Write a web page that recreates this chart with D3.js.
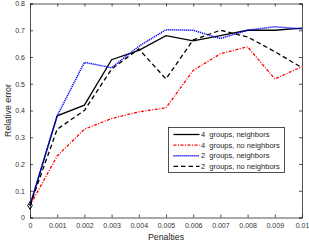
<!DOCTYPE html>
<html>
<head>
<meta charset="utf-8">
<script src="https://cdn.jsdelivr.net/npm/d3@7"></script>
<style>
  body { margin: 0; background: #fff; }
  text { font-family: "Liberation Sans", Arial, sans-serif; }
</style>
</head>
<body>
<svg id="chart" width="309" height="244"></svg>
<script>
// Relative error vs penalties

const penalties = [0, 0.001, 0.002, 0.003, 0.004, 0.005, 0.006, 0.007, 0.008, 0.009, 0.01];
const fourNeighbors   = [0.045, 0.38, 0.42, 0.59, 0.625, 0.68, 0.66, 0.68, 0.70, 0.70, 0.708];
const fourNoNeighbors = [0.045, 0.23, 0.33, 0.37, 0.395, 0.41, 0.55, 0.612, 0.638, 0.518, 0.564];
const twoNeighbors    = [0.045, 0.38, 0.58, 0.56, 0.64, 0.702, 0.70, 0.669, 0.70, 0.713, 0.705];
const twoNoNeighbors  = [0.045, 0.33, 0.40, 0.555, 0.63, 0.518, 0.664, 0.70, 0.675, 0.62, 0.56];
const xTicks = [0, 0.001, 0.002, 0.003, 0.004, 0.005, 0.006, 0.007, 0.008, 0.009, 0.01];
const yTicks = [0, 0.1, 0.2, 0.3, 0.4, 0.5, 0.6, 0.7, 0.8];

const series = [
  { name: "4  groups, neighbors", values: fourNeighbors, color: "#000", dash: null, width: 1.3 },
  { name: "4  groups, no neighbors", values: fourNoNeighbors, color: "#ff0000", dash: "3,1.5,1,1.5", width: 1.3 },
  { name: "2  groups, neighbors", values: twoNeighbors, color: "#0000ff", dash: "1.2,0.8", width: 1.5 },
  { name: "2  groups, no neighbors", values: twoNoNeighbors, color: "#000", dash: "4.5,3", width: 1.3 }
];

let svg = d3.select("#chart");
const margin = { top: 3.5, right: 7, bottom: 26.5, left: 30 };
const w = 309 - margin.left - margin.right;
const h = 244 - margin.top - margin.bottom;
let g = svg.append("g").attr("transform", "translate(" + margin.left + "," + margin.top + ")");

let x = d3.scaleLinear().domain([0, 0.01]).range([0, w]);
let y = d3.scaleLinear().domain([0, 0.8]).range([h, 0]);

// axes with inward ticks, MATLAB style box
let xAxis = g.append("g").attr("transform", "translate(0," + h + ")")
  .call(d3.axisBottom(x).tickValues(xTicks).tickSize(-3).tickPadding(6).tickFormat(d => d3.format("~g")(d)));
let xTop = g.append("g")
  .call(d3.axisTop(x).tickValues(xTicks).tickSize(-3).tickFormat(""));
let yAxis = g.append("g")
  .call(d3.axisLeft(y).tickValues(yTicks).tickSize(-3).tickPadding(5).tickFormat(d => d3.format("~g")(d)));
let yRight = g.append("g").attr("transform", "translate(" + w + ",0)")
  .call(d3.axisRight(y).tickValues(yTicks).tickSize(-3).tickFormat(""));

[xAxis, xTop, yAxis, yRight].forEach(a => {
  a.selectAll("path").attr("stroke", "#262626").attr("stroke-width", 0.8);
  a.selectAll("line").attr("stroke", "#262626").attr("stroke-width", 0.8);
  a.selectAll("text").attr("fill", "#333").style("font-size", "7px");
});

// axis labels
svg.append("text")
  .attr("x", margin.left + w / 2).attr("y", 240)
  .attr("text-anchor", "middle").attr("fill", "#262626")
  .style("font-size", "8.8px").text("Penalties");
svg.append("text")
  .attr("transform", "translate(11," + (margin.top + h / 2) + ") rotate(-90)")
  .attr("text-anchor", "middle").attr("fill", "#262626")
  .style("font-size", "8.8px").text("Relative error");

let line = d3.line().x((d, i) => x(penalties[i])).y(d => y(d));

series.forEach(s => {
  g.append("path").datum(s.values)
    .attr("fill", "none")
    .attr("stroke", s.color)
    .attr("stroke-width", s.width)
    .attr("stroke-dasharray", s.dash)
    .attr("d", line);
});

// diamond marker at the start point
g.append("path")
  .attr("d", d3.symbol().type(d3.symbolDiamond).size(18))
  .attr("transform", "translate(" + x(penalties[0]) + "," + y(fourNeighbors[0]) + ")")
  .attr("fill", "none").attr("stroke", "#000").attr("stroke-width", 1);

// legend
let legend = svg.append("g").attr("transform", "translate(168.5,127.5)");
legend.append("rect")
  .attr("width", 116).attr("height", 45)
  .attr("fill", "#fff").attr("stroke", "#262626").attr("stroke-width", 0.8);
series.forEach((s, i) => {
  let yy = 7 + i * 10.6;
  legend.append("line")
    .attr("x1", 5).attr("x2", 31).attr("y1", yy).attr("y2", yy)
    .attr("stroke", s.color).attr("stroke-width", s.width)
    .attr("stroke-dasharray", s.dash);
  legend.append("text")
    .attr("x", 32.5).attr("y", yy + 2.7)
    .attr("fill", "#262626").style("font-size", "7.5px")
    .style("white-space", "pre").attr("xml:space", "preserve")
    .text(s.name);
});
</script>
</body>
</html>
